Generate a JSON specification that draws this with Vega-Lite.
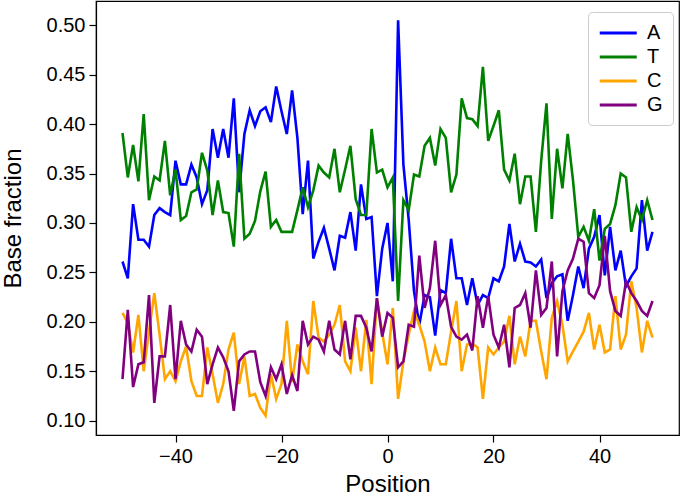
{
  "$schema": "https://vega.github.io/schema/vega-lite/v6.json",
  "width": 583,
  "height": 434,
  "autosize": {"type": "none"},
  "padding": {"left": 96, "top": 1, "right": 6, "bottom": 63},
  "background": "white",
  "config": {
    "view": {"stroke": "black", "strokeWidth": 1.2},
    "font": "Liberation Sans",
    "axis": {
      "grid": false,
      "domainColor": "black",
      "domainWidth": 1.2,
      "tickColor": "black",
      "tickSize": 7,
      "tickWidth": 1.2,
      "labelColor": "black",
      "labelFontSize": 20,
      "labelPadding": 4,
      "titleColor": "black",
      "titleFontSize": 24,
      "titleFontWeight": "normal"
    }
  },
  "data": {
    "values": [
      {"p": -50, "A": 0.261, "T": 0.391, "C": 0.209, "G": 0.142},
      {"p": -49, "A": 0.244, "T": 0.346, "C": 0.199, "G": 0.212},
      {"p": -48, "A": 0.319, "T": 0.379, "C": 0.169, "G": 0.134},
      {"p": -47, "A": 0.283, "T": 0.342, "C": 0.207, "G": 0.157},
      {"p": -46, "A": 0.283, "T": 0.410, "C": 0.150, "G": 0.159},
      {"p": -45, "A": 0.276, "T": 0.323, "C": 0.190, "G": 0.227},
      {"p": -44, "A": 0.308, "T": 0.347, "C": 0.229, "G": 0.118},
      {"p": -43, "A": 0.315, "T": 0.343, "C": 0.187, "G": 0.165},
      {"p": -42, "A": 0.311, "T": 0.383, "C": 0.142, "G": 0.165},
      {"p": -41, "A": 0.308, "T": 0.328, "C": 0.150, "G": 0.217},
      {"p": -40, "A": 0.363, "T": 0.354, "C": 0.140, "G": 0.142},
      {"p": -39, "A": 0.339, "T": 0.303, "C": 0.160, "G": 0.201},
      {"p": -38, "A": 0.339, "T": 0.307, "C": 0.175, "G": 0.177},
      {"p": -37, "A": 0.359, "T": 0.331, "C": 0.140, "G": 0.170},
      {"p": -36, "A": 0.346, "T": 0.334, "C": 0.125, "G": 0.192},
      {"p": -35, "A": 0.319, "T": 0.371, "C": 0.125, "G": 0.185},
      {"p": -34, "A": 0.333, "T": 0.353, "C": 0.174, "G": 0.137},
      {"p": -33, "A": 0.395, "T": 0.308, "C": 0.147, "G": 0.157},
      {"p": -32, "A": 0.366, "T": 0.343, "C": 0.118, "G": 0.174},
      {"p": -31, "A": 0.395, "T": 0.311, "C": 0.137, "G": 0.164},
      {"p": -30, "A": 0.366, "T": 0.310, "C": 0.172, "G": 0.150},
      {"p": -29, "A": 0.426, "T": 0.276, "C": 0.189, "G": 0.110},
      {"p": -28, "A": 0.331, "T": 0.370, "C": 0.137, "G": 0.160},
      {"p": -27, "A": 0.390, "T": 0.284, "C": 0.165, "G": 0.167},
      {"p": -26, "A": 0.414, "T": 0.289, "C": 0.125, "G": 0.170},
      {"p": -25, "A": 0.398, "T": 0.302, "C": 0.127, "G": 0.170},
      {"p": -24, "A": 0.413, "T": 0.332, "C": 0.113, "G": 0.139},
      {"p": -23, "A": 0.417, "T": 0.352, "C": 0.105, "G": 0.125},
      {"p": -22, "A": 0.402, "T": 0.296, "C": 0.147, "G": 0.154},
      {"p": -21, "A": 0.438, "T": 0.303, "C": 0.122, "G": 0.142},
      {"p": -20, "A": 0.413, "T": 0.291, "C": 0.137, "G": 0.157},
      {"p": -19, "A": 0.390, "T": 0.291, "C": 0.201, "G": 0.127},
      {"p": -18, "A": 0.434, "T": 0.291, "C": 0.139, "G": 0.146},
      {"p": -17, "A": 0.386, "T": 0.313, "C": 0.177, "G": 0.130},
      {"p": -16, "A": 0.309, "T": 0.336, "C": 0.160, "G": 0.201},
      {"p": -15, "A": 0.363, "T": 0.316, "C": 0.147, "G": 0.177},
      {"p": -14, "A": 0.264, "T": 0.333, "C": 0.221, "G": 0.185},
      {"p": -13, "A": 0.281, "T": 0.358, "C": 0.184, "G": 0.182},
      {"p": -12, "A": 0.295, "T": 0.351, "C": 0.180, "G": 0.170},
      {"p": -11, "A": 0.274, "T": 0.346, "C": 0.187, "G": 0.201},
      {"p": -10, "A": 0.252, "T": 0.375, "C": 0.197, "G": 0.172},
      {"p": -9, "A": 0.287, "T": 0.331, "C": 0.217, "G": 0.167},
      {"p": -8, "A": 0.285, "T": 0.354, "C": 0.160, "G": 0.201},
      {"p": -7, "A": 0.311, "T": 0.378, "C": 0.150, "G": 0.162},
      {"p": -6, "A": 0.272, "T": 0.324, "C": 0.194, "G": 0.206},
      {"p": -5, "A": 0.339, "T": 0.308, "C": 0.150, "G": 0.206},
      {"p": -4, "A": 0.304, "T": 0.308, "C": 0.202, "G": 0.194},
      {"p": -3, "A": 0.306, "T": 0.395, "C": 0.137, "G": 0.170},
      {"p": -2, "A": 0.226, "T": 0.351, "C": 0.224, "G": 0.224},
      {"p": -1, "A": 0.274, "T": 0.354, "C": 0.189, "G": 0.185},
      {"p": 0, "A": 0.300, "T": 0.336, "C": 0.157, "G": 0.209},
      {"p": 1, "A": 0.241, "T": 0.346, "C": 0.214, "G": 0.204},
      {"p": 2, "A": 0.505, "T": 0.221, "C": 0.122, "G": 0.154},
      {"p": 3, "A": 0.359, "T": 0.323, "C": 0.160, "G": 0.160},
      {"p": 4, "A": 0.303, "T": 0.313, "C": 0.187, "G": 0.197},
      {"p": 5, "A": 0.231, "T": 0.349, "C": 0.211, "G": 0.195},
      {"p": 6, "A": 0.197, "T": 0.347, "C": 0.197, "G": 0.267},
      {"p": 7, "A": 0.227, "T": 0.378, "C": 0.180, "G": 0.214},
      {"p": 8, "A": 0.225, "T": 0.386, "C": 0.150, "G": 0.234},
      {"p": 9, "A": 0.186, "T": 0.358, "C": 0.174, "G": 0.282},
      {"p": 10, "A": 0.232, "T": 0.395, "C": 0.157, "G": 0.217},
      {"p": 11, "A": 0.229, "T": 0.386, "C": 0.157, "G": 0.227},
      {"p": 12, "A": 0.284, "T": 0.331, "C": 0.190, "G": 0.195},
      {"p": 13, "A": 0.244, "T": 0.349, "C": 0.221, "G": 0.185},
      {"p": 14, "A": 0.244, "T": 0.426, "C": 0.150, "G": 0.182},
      {"p": 15, "A": 0.217, "T": 0.406, "C": 0.177, "G": 0.187},
      {"p": 16, "A": 0.244, "T": 0.405, "C": 0.178, "G": 0.171},
      {"p": 17, "A": 0.217, "T": 0.398, "C": 0.174, "G": 0.226},
      {"p": 18, "A": 0.227, "T": 0.458, "C": 0.122, "G": 0.194},
      {"p": 19, "A": 0.224, "T": 0.383, "C": 0.174, "G": 0.226},
      {"p": 20, "A": 0.244, "T": 0.398, "C": 0.167, "G": 0.187},
      {"p": 21, "A": 0.241, "T": 0.414, "C": 0.174, "G": 0.174},
      {"p": 22, "A": 0.256, "T": 0.354, "C": 0.180, "G": 0.197},
      {"p": 23, "A": 0.299, "T": 0.343, "C": 0.206, "G": 0.154},
      {"p": 24, "A": 0.261, "T": 0.370, "C": 0.157, "G": 0.214},
      {"p": 25, "A": 0.279, "T": 0.319, "C": 0.185, "G": 0.217},
      {"p": 26, "A": 0.261, "T": 0.347, "C": 0.165, "G": 0.229},
      {"p": 27, "A": 0.260, "T": 0.347, "C": 0.201, "G": 0.194},
      {"p": 28, "A": 0.256, "T": 0.291, "C": 0.201, "G": 0.252},
      {"p": 29, "A": 0.263, "T": 0.363, "C": 0.170, "G": 0.207},
      {"p": 30, "A": 0.224, "T": 0.421, "C": 0.142, "G": 0.214},
      {"p": 31, "A": 0.239, "T": 0.304, "C": 0.204, "G": 0.261},
      {"p": 32, "A": 0.246, "T": 0.375, "C": 0.221, "G": 0.165},
      {"p": 33, "A": 0.248, "T": 0.335, "C": 0.197, "G": 0.231},
      {"p": 34, "A": 0.201, "T": 0.390, "C": 0.160, "G": 0.252},
      {"p": 35, "A": 0.227, "T": 0.343, "C": 0.170, "G": 0.264},
      {"p": 36, "A": 0.256, "T": 0.286, "C": 0.180, "G": 0.284},
      {"p": 37, "A": 0.234, "T": 0.296, "C": 0.190, "G": 0.281},
      {"p": 38, "A": 0.274, "T": 0.282, "C": 0.209, "G": 0.229},
      {"p": 39, "A": 0.286, "T": 0.314, "C": 0.172, "G": 0.224},
      {"p": 40, "A": 0.308, "T": 0.262, "C": 0.197, "G": 0.237},
      {"p": 41, "A": 0.247, "T": 0.294, "C": 0.169, "G": 0.287},
      {"p": 42, "A": 0.296, "T": 0.299, "C": 0.172, "G": 0.231},
      {"p": 43, "A": 0.252, "T": 0.318, "C": 0.226, "G": 0.211},
      {"p": 44, "A": 0.272, "T": 0.350, "C": 0.172, "G": 0.206},
      {"p": 45, "A": 0.236, "T": 0.346, "C": 0.187, "G": 0.241},
      {"p": 46, "A": 0.246, "T": 0.291, "C": 0.241, "G": 0.229},
      {"p": 47, "A": 0.254, "T": 0.316, "C": 0.214, "G": 0.221},
      {"p": 48, "A": 0.323, "T": 0.303, "C": 0.169, "G": 0.211},
      {"p": 49, "A": 0.272, "T": 0.323, "C": 0.201, "G": 0.206},
      {"p": 50, "A": 0.291, "T": 0.303, "C": 0.184, "G": 0.221}
    ]
  },
  "transform": [{"fold": ["A", "T", "C", "G"], "as": ["base", "value"]}],
  "mark": {"type": "line", "strokeWidth": 2.6},
  "encoding": {
    "x": {
      "field": "p",
      "type": "quantitative",
      "scale": {"domain": [-55, 55], "nice": false, "zero": false},
      "axis": {"title": "Position", "values": [-40, -20, 0, 20, 40], "format": "d", "titlePadding": 6}
    },
    "y": {
      "field": "value",
      "type": "quantitative",
      "scale": {"domain": [0.0855, 0.5245], "nice": false, "zero": false},
      "axis": {"title": "Base fraction", "values": [0.1, 0.15, 0.2, 0.25, 0.3, 0.35, 0.4, 0.45, 0.5], "format": ".2f", "titlePadding": 21}
    },
    "color": {
      "field": "base",
      "type": "nominal",
      "scale": {"domain": ["A", "T", "C", "G"], "range": ["#0000ff", "#008000", "#ffa500", "#800080"]},
      "legend": {
        "orient": "none",
        "legendX": 492,
        "legendY": 11,
        "title": null,
        "symbolType": "M-1,0H3",
        "symbolSize": 342,
        "symbolStrokeWidth": 3,
        "labelFontSize": 20,
        "labelColor": "black",
        "labelOffset": 27,
        "padding": 10,
        "rowPadding": 3,
        "strokeColor": "#cccccc",
        "fillColor": "white",
        "cornerRadius": 4
      }
    }
  }
}
